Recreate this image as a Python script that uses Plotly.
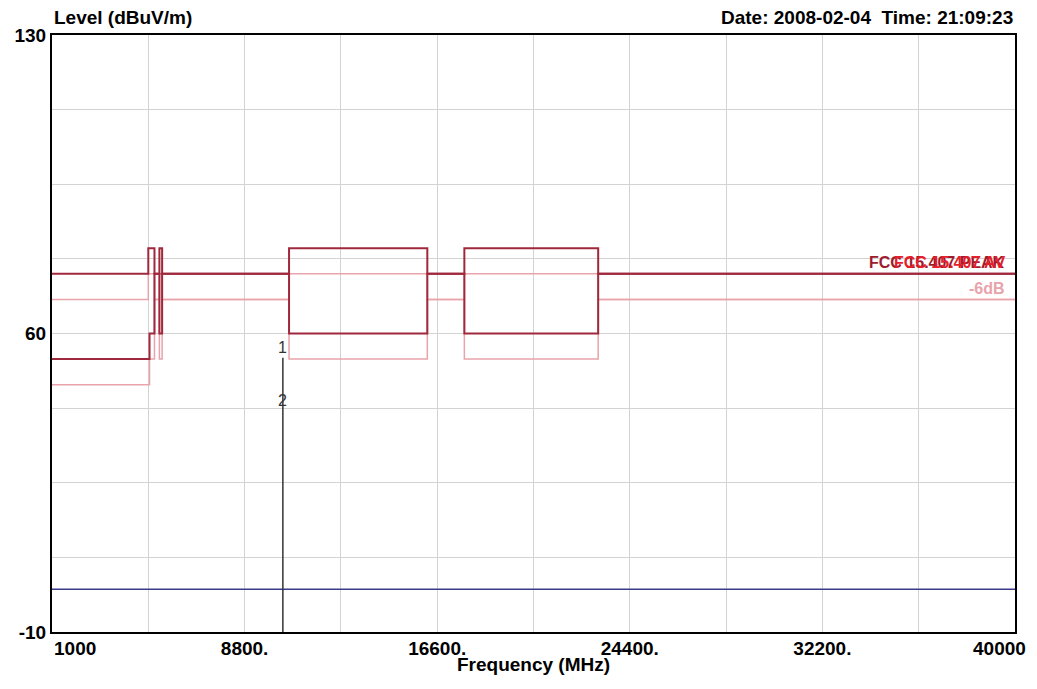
import plotly.graph_objects as go

# limit lines (frequency in MHz, level in dBuV/m)
pk_freq = [1000, 4900, 4900, 5150, 5150, 5350, 5350, 5460, 5460, 10600, 10600, 16200, 16200, 17700, 17700, 23120, 23120, 40000]
pk_level = [74, 74, 80, 80, 74, 74, 80, 80, 74, 74, 80, 80, 74, 74, 80, 80, 74, 74]
av_freq = [1000, 4950, 4950, 5150, 5150, 5350, 5350, 5460, 5460, 10600, 10600, 16200, 16200, 17700, 17700, 23120, 23120, 40000]
av_level = [54, 54, 60, 60, 74, 74, 60, 60, 74, 74, 60, 60, 74, 74, 60, 60, 74, 74]
margin_db = 6

# measured trace
trace_freq = [1000, 40000]
trace_level = [0, 0]

# markers
marker_freq = [10350, 10350]
marker_level = [54.3, 42.0]
marker_names = ["1", "2"]

x_ticks = [1000, 4900, 8800, 12700, 16600, 20500, 24400, 28300, 32200, 36100, 40000]
x_ticktext = ["", "", "8800.", "", "16600.", "", "24400.", "", "32200.", "", ""]
y_ticks = [-10, 7.5, 25, 42.5, 60, 77.5, 95, 112.5, 130]
y_ticktext = ["-10", "", "", "", "60", "", "", "", "130"]

dark = "#A0283C"
light = "#E9A3AB"
font = "Liberation Sans, Arial, sans-serif"

fig = go.Figure()
fig.add_trace(go.Scatter(x=av_freq, y=[v - margin_db for v in av_level], mode="lines",
                         line=dict(color=light, width=1.5), hoverinfo="skip"))
fig.add_trace(go.Scatter(x=pk_freq, y=[v - margin_db for v in pk_level], mode="lines",
                         line=dict(color=light, width=1.5), hoverinfo="skip"))
fig.add_trace(go.Scatter(x=av_freq, y=av_level, mode="lines",
                         line=dict(color=dark, width=2), hoverinfo="skip"))
fig.add_trace(go.Scatter(x=pk_freq, y=pk_level, mode="lines",
                         line=dict(color=dark, width=2), hoverinfo="skip"))
fig.add_trace(go.Scatter(x=trace_freq, y=trace_level, mode="lines",
                         line=dict(color="#3B3B8A", width=1.5)))
fig.add_trace(go.Scatter(x=[marker_freq[0], marker_freq[0]], y=[-10, max(marker_level)], mode="lines",
                         line=dict(color="#333333", width=1.5)))

for f, lv, name in zip(marker_freq, marker_level, marker_names):
    fig.add_annotation(x=f, y=lv, text=name, showarrow=False, yshift=10,
                       font=dict(family=font, size=16, color="#333333"))

# limit labels (overlapping, as on the instrument printout)
fig.add_annotation(x=1, xref="paper", y=74, xanchor="right", xshift=-8, yshift=11, text="FCC 15.407 PEAK",
                   showarrow=False, font=dict(family=font, size=16, color="#9E1B2E", weight="bold"))
fig.add_annotation(x=1, xref="paper", y=74, xanchor="right", xshift=-8, yshift=11, text="FCC 15.407 AV",
                   showarrow=False, font=dict(family=font, size=16, color="#E5202A", weight="bold"))
fig.add_annotation(x=1, xref="paper", y=68, xanchor="right", xshift=-8, yshift=11, text="-6dB",
                   showarrow=False, font=dict(family=font, size=16, color=light, weight="bold"))

# end tick labels of the x axis
fig.add_annotation(x=x_ticks[0], y=0, yref="paper", yanchor="top", xanchor="left", yshift=-4, text="1000",
                   showarrow=False, font=dict(family=font, size=19, color="black", weight="bold"))
fig.add_annotation(x=x_ticks[-1], y=0, yref="paper", yanchor="top", xanchor="right", xshift=13, yshift=-4,
                   text="40000", showarrow=False, font=dict(family=font, size=19, color="black", weight="bold"))

# titles
fig.add_annotation(x=0, xref="paper", y=1, yref="paper", xanchor="left", yanchor="bottom", yshift=5,
                   text="Level (dBuV/m)", showarrow=False,
                   font=dict(family=font, size=19, color="black", weight="bold"))
fig.add_annotation(x=1, xref="paper", y=1, yref="paper", xanchor="right", yanchor="bottom", yshift=5,
                   text="Date: 2008-02-04  Time: 21:09:23", showarrow=False,
                   font=dict(family=font, size=19, color="black", weight="bold"))
fig.add_annotation(x=0.5, xref="paper", y=0, yref="paper", yanchor="top", yshift=-20,
                   text="Frequency (MHz)", showarrow=False,
                   font=dict(family=font, size=19, color="black", weight="bold"))

fig.update_xaxes(range=[1000, 40000], tickvals=x_ticks, ticktext=x_ticktext, automargin=False,
                 showgrid=True, gridcolor="#D3D3D3", gridwidth=1, zeroline=False,
                 showline=True, linecolor="black", linewidth=2, mirror=True, ticks="",
                 ticklabelstandoff=-2,
                 tickfont=dict(family=font, size=19, color="black", weight="bold"))
fig.update_yaxes(range=[-10, 130], tickvals=y_ticks, ticktext=y_ticktext, automargin=False,
                 showgrid=True, gridcolor="#D3D3D3", gridwidth=1, zeroline=False,
                 showline=True, linecolor="black", linewidth=2, mirror=True, ticks="",
                 tickfont=dict(family=font, size=19, color="black", weight="bold"))
# the page body adds 8px, so margins are set to land the plot where the reference has it
fig.update_layout(width=1037, height=689, showlegend=False,
                  plot_bgcolor="white", paper_bgcolor="white",
                  margin=dict(l=44, r=30, t=27, b=65))

fig.write_html("out.html")
